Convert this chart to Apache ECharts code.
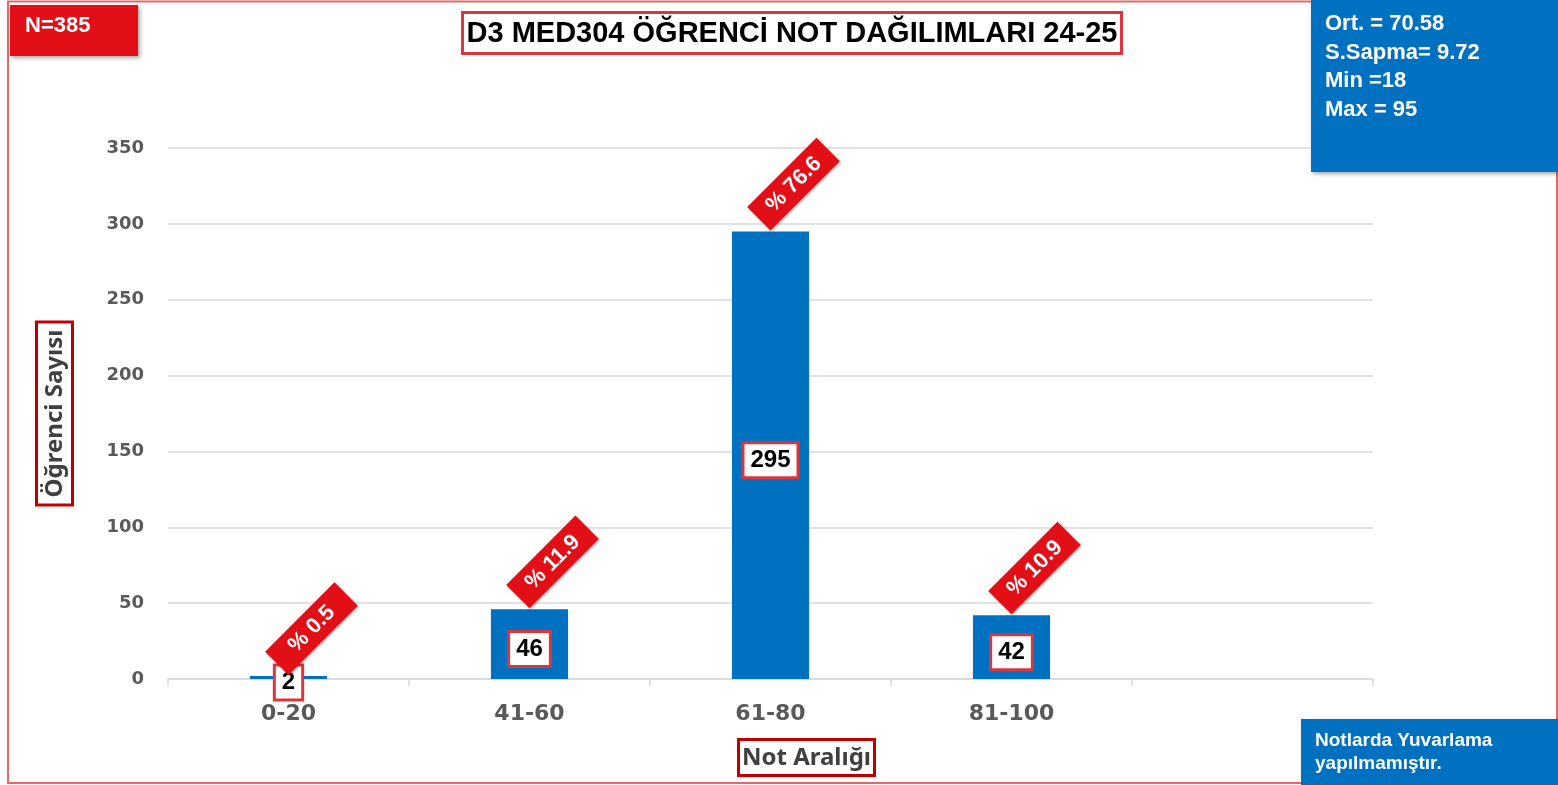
<!DOCTYPE html>
<html>
<head>
<meta charset="utf-8">
<script src="https://cdn.jsdelivr.net/npm/echarts@6/dist/echarts.min.js"></script>
<style>
  html, body { margin: 0; padding: 0; background: #fff; }
  #chart { width: 1558px; height: 785px; }
</style>
</head>
<body>
<div id="chart"></div>
<script>
// Grade bands and student counts
const categories = ['0-20', '41-60', '61-80', '81-100', ''];
const counts = [2, 46, 295, 42, '-'];
const percents = ['0.5', '11.9', '76.6', '10.9', ''];
const yTicks = { min: 0, max: 350, interval: 50 };

const titleText = 'D3 MED304 ÖĞRENCİ NOT DAĞILIMLARI 24-25';
const totalText = 'N=385';
const statLines = ['Ort. = 70.58', 'S.Sapma= 9.72', 'Min =18', 'Max = 95'];
const noteLines = ['Notlarda Yuvarlama', 'yapılmamıştır.'];
const xName = 'Not Aralığı';
const yName = 'Öğrenci Sayısı';

const RED = '#e30f17';
const BORDER_RED = '#d9363e';
const BLUE = '#0070c0';
const ARIAL = 'Liberation Sans';
const AXIS_FONT = 'DejaVu Sans';
const NAME_FONT = 'Noto Sans';

const chart = echarts.init(document.getElementById('chart'), null, { renderer: 'canvas' });

const boxShadow = { shadowBlur: 4, shadowOffsetX: 2, shadowOffsetY: 2, shadowColor: 'rgba(0,0,0,0.35)' };

function boxText(x, y, text, size, color, extra) {
  return {
    type: 'text', z: 11, x: x, y: y,
    style: Object.assign({
      text: text, fill: color, fontFamily: ARIAL, fontWeight: 'bold', fontSize: size
    }, extra || {})
  };
}

chart.setOption({
  animation: false,
  backgroundColor: '#fff',
  grid: { left: 168, right: 185, top: 148, bottom: 106, containLabel: false },
  xAxis: {
    type: 'category',
    data: categories,
    axisLine: { show: true, lineStyle: { color: '#d9d9d9', width: 1.5 } },
    axisTick: { show: true, length: 7, lineStyle: { color: '#d9d9d9', width: 1.5 } },
    axisLabel: { color: '#595959', fontFamily: AXIS_FONT, fontWeight: 'bold', fontSize: 22, margin: 24 }
  },
  yAxis: {
    type: 'value',
    min: yTicks.min, max: yTicks.max, interval: yTicks.interval,
    name: yName,
    nameLocation: 'middle',
    nameRotate: 90,
    nameGap: 97,
    nameTextStyle: {
      color: '#404040', fontFamily: NAME_FONT, fontWeight: 'bold', fontSize: 24,
      backgroundColor: '#fff', borderColor: '#c00000', borderWidth: 3, padding: [5, 6, 4, 6]
    },
    axisLine: { show: false },
    axisTick: { show: false },
    splitLine: { lineStyle: { color: '#d9d9d9', width: 1.5 } },
    axisLabel: { color: '#595959', fontFamily: AXIS_FONT, fontWeight: 'bold', fontSize: 18, margin: 24 }
  },
  series: [
    {
      type: 'bar',
      data: counts,
      barWidth: '32%',
      itemStyle: { color: BLUE },
      z: 2,
      label: {
        show: true,
        position: 'inside',
        offset: [0, 5],
        color: '#000',
        fontFamily: ARIAL,
        fontWeight: 'bold',
        fontSize: 24,
        backgroundColor: '#fff',
        borderColor: BORDER_RED,
        borderWidth: 3,
        padding: [5, 6, 3, 6]
      }
    },
    {
      // transparent twin bars that carry the rotated percentage tags
      type: 'bar',
      data: counts,
      barWidth: '32%',
      barGap: '-100%',
      itemStyle: { color: 'rgba(0,0,0,0)' },
      z: 3,
      silent: true,
      label: {
        show: true,
        position: 'top',
        distance: 1,
        rotate: 45,
        align: 'left',
        verticalAlign: 'bottom',
        formatter: p => '{t|% ' + percents[p.dataIndex] + '}',
        backgroundColor: RED,
        padding: [6, 13, 5, 13],
        shadowBlur: 3, shadowOffsetX: 1, shadowOffsetY: 1, shadowColor: 'rgba(0,0,0,0.3)',
        rich: {
          t: { width: 72, align: 'center', color: '#fff', fontFamily: ARIAL, fontWeight: 'bold', fontSize: 22 }
        }
      }
    }
  ],
  graphic: [
    // outer frame
    { type: 'rect', z: 0, silent: true,
      shape: { x: 8, y: 1.5, width: 1549, height: 781.5 },
      style: { fill: 'none', stroke: '#e06a6a', lineWidth: 2 } },
    // sample size tag
    { type: 'rect', z: 10, shape: { x: 10, y: 5, width: 128, height: 51 },
      style: Object.assign({ fill: RED }, boxShadow) },
    boxText(25, 26, totalText, 22, '#fff', { verticalAlign: 'middle' }),
    // title
    { type: 'rect', z: 10, shape: { x: 462.5, y: 12.5, width: 659, height: 41 },
      style: { fill: '#fff', stroke: BORDER_RED, lineWidth: 3 } },
    boxText(792, 34, titleText, 29, '#000', { align: 'center', verticalAlign: 'middle' }),
    // statistics panel
    { type: 'rect', z: 10, shape: { x: 1311, y: 0, width: 247, height: 172 },
      style: Object.assign({ fill: BLUE }, boxShadow) },
    boxText(1325, 10, statLines.join('\n'), 22, '#fff', { lineHeight: 28.5, verticalAlign: 'top' }),
    // rounding note
    { type: 'rect', z: 10, shape: { x: 1301, y: 719, width: 257, height: 66 },
      style: Object.assign({ fill: BLUE }, boxShadow) },
    boxText(1315, 729.5, noteLines.join('\n'), 19, '#fff', { lineHeight: 23, verticalAlign: 'top' }),
    // x axis name
    { type: 'rect', z: 10, shape: { x: 738.5, y: 739.5, width: 136, height: 36 },
      style: { fill: '#fff', stroke: '#c00000', lineWidth: 3 } },
    { type: 'text', z: 11, x: 806.5, y: 758,
      style: { text: xName, fill: '#404040', fontFamily: NAME_FONT, fontWeight: 'bold', fontSize: 24,
               align: 'center', verticalAlign: 'middle' } }
  ]
});
</script>
</body>
</html>
